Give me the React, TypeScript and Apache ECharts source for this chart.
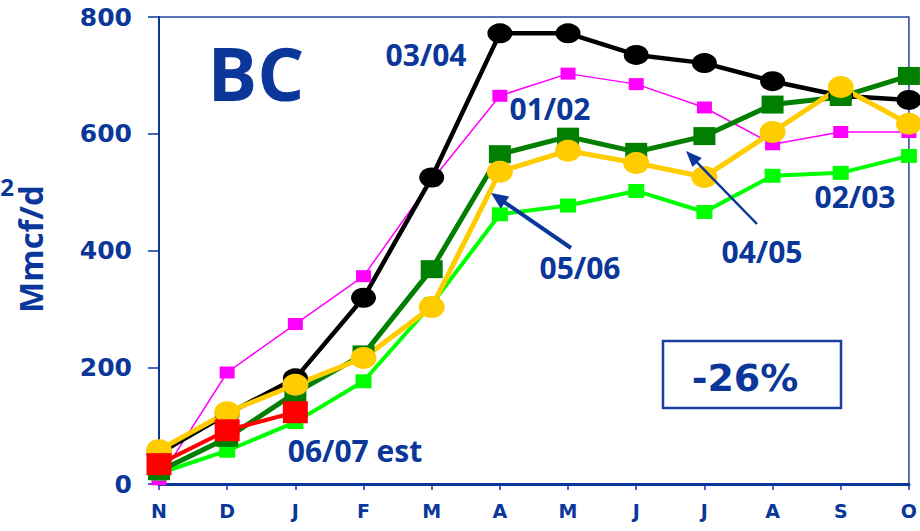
import React, { useEffect, useRef } from "react";
import * as echarts from "echarts";

const categories = ["N", "D", "J", "F", "M", "A", "M", "J", "J", "A", "S", "O"];
const yTicks = [0, 200, 400, 600, 800];
const s0102 = [8, 191, 274, 356, 520, 665, 703, 685, 645, 582, 603, 603];
const s0203 = [18, 57, 106, 176, 308, 462, 477, 502, 466, 528, 533, 562];
const s0304 = [52, 120, 181, 319, 525, 772, 772, 735, 721, 690, 665, 658];
const s0405 = [22, 79, 156, 222, 368, 565, 595, 569, 596, 650, 663, 699];
const s0506 = [58, 123, 170, 216, 303, 535, 571, 550, 526, 603, 680, 617];
const s0607 = [34, 92, 123];

const BLUE = "#0a3799";
const ANN_FONT = "'Open Sans', 'Noto Sans', sans-serif";
const AX_FONT = "'DejaVu Sans', Verdana, sans-serif";

function arrow(x1: number, y1: number, x2: number, y2: number, w: number, hl: number, hw: number) {
  const dx = x2 - x1, dy = y2 - y1;
  const len = Math.sqrt(dx * dx + dy * dy);
  const ux = dx / len, uy = dy / len;
  const bx = x2 - ux * hl, by = y2 - uy * hl;
  const px = -uy, py = ux;
  return [
    {
      type: "line",
      z: 100,
      shape: { x1, y1, x2: bx + ux * 2, y2: by + uy * 2 },
      style: { stroke: BLUE, lineWidth: w },
    },
    {
      type: "polygon",
      z: 100,
      shape: {
        points: [
          [x2, y2],
          [bx + px * hw / 2, by + py * hw / 2],
          [bx - px * hw / 2, by - py * hw / 2],
        ],
      },
      style: { fill: BLUE },
    },
  ];
}

function label(text: string, x: number, y: number, size = 30) {
  return {
    type: "text",
    z: 100,
    x,
    y,
    style: {
      text,
      fill: BLUE,
      font: `bold ${size}px ${ANN_FONT}`,
      align: "center",
      verticalAlign: "middle",
    },
  };
}

export default function App() {
  const ref = useRef<HTMLDivElement>(null);
  useEffect(() => {
    const chart = echarts.init(ref.current!, null, { renderer: "svg" });
    const line = (name: string, data: number[], color: string, width: number, symbol: string, size: number[]) => ({
      name,
      type: "line",
      data,
      symbol,
      symbolSize: size,
      showSymbol: true,
      lineStyle: { color, width },
      itemStyle: { color, borderWidth: 0 },
      emphasis: { disabled: true },
    });
    chart.setOption({
      animation: false,
      grid: {
        left: 159,
        right: 10,
        top: 17,
        bottom: 47,
        show: true,
        borderColor: "#1f47a3",
        borderWidth: 1.5,
        backgroundColor: "transparent",
      },
      xAxis: {
        type: "category",
        data: categories,
        boundaryGap: false,
        axisLine: { lineStyle: { color: BLUE, width: 3 } },
        axisTick: { show: true, length: 6, lineStyle: { color: BLUE, width: 1.5 }, alignWithLabel: true },
        axisLabel: {
          color: BLUE,
          fontFamily: AX_FONT,
          fontWeight: "bold",
          fontSize: 19,
          margin: 17,
          interval: 0,
        },
        splitLine: { show: false },
      },
      yAxis: {
        type: "value",
        min: yTicks[0],
        max: yTicks[yTicks.length - 1],
        interval: 200,
        axisLine: { show: true, lineStyle: { color: BLUE, width: 2 } },
        axisTick: { show: true, length: 11, lineStyle: { color: BLUE, width: 1.5 } },
        axisLabel: {
          color: BLUE,
          fontFamily: AX_FONT,
          fontWeight: "bold",
          fontSize: 25,
          margin: 27,
        },
        splitLine: { show: false },
      },
      series: [
        line("01/02", s0102, "#ff00ff", 1.5, "rect", [15, 12]),
        line("02/03", s0203, "#00ff00", 4, "rect", [16, 14]),
        line("03/04", s0304, "#000000", 4.5, "circle", [25, 20]),
        line("04/05", s0405, "#007f00", 5, "rect", [22, 18]),
        line("05/06", s0506, "#ffcc00", 5, "circle", [26, 22]),
        line("06/07 est", s0607, "#ff0000", 4, "rect", [25, 22]),
      ],
      graphic: [
        label("BC", 256, 72, 74),
        label("03/04", 426, 54),
        label("01/02", 550, 108),
        label("02/03", 855, 196),
        label("04/05", 762, 251),
        label("05/06", 580, 267),
        label("06/07 est", 355, 450),
        ...arrow(571, 248, 491, 193, 4, 17, 15),
        ...arrow(757, 224, 686, 151, 2.5, 16, 13),
        {
          type: "rect",
          z: 100,
          shape: { x: 663, y: 341, width: 178, height: 67 },
          style: { fill: "#ffffff", stroke: "#1a3f9f", lineWidth: 2.5 },
        },
        {
          type: "text",
          z: 101,
          x: 745,
          y: 378,
          style: {
            text: "-26%",
            fill: BLUE,
            font: `bold 38px ${AX_FONT}`,
            align: "center",
            verticalAlign: "middle",
          },
        },
        {
          type: "text",
          z: 100,
          x: 30,
          y: 249,
          rotation: Math.PI / 2,
          style: {
            text: "Mmcf/d",
            fill: BLUE,
            font: `bold 33px ${ANN_FONT}`,
            align: "center",
            verticalAlign: "middle",
          },
        },
        {
          type: "text",
          z: 100,
          x: 7,
          y: 186,
          style: {
            text: "2",
            fill: BLUE,
            font: `bold 24px ${ANN_FONT}`,
            align: "center",
            verticalAlign: "middle",
          },
        },
      ],
    });
    return () => chart.dispose();
  }, []);
  return (
    <div
      ref={ref}
      style={{ width: 920, height: 531, position: "absolute", left: 0, top: 0, background: "#ffffff" }}
    />
  );
}
